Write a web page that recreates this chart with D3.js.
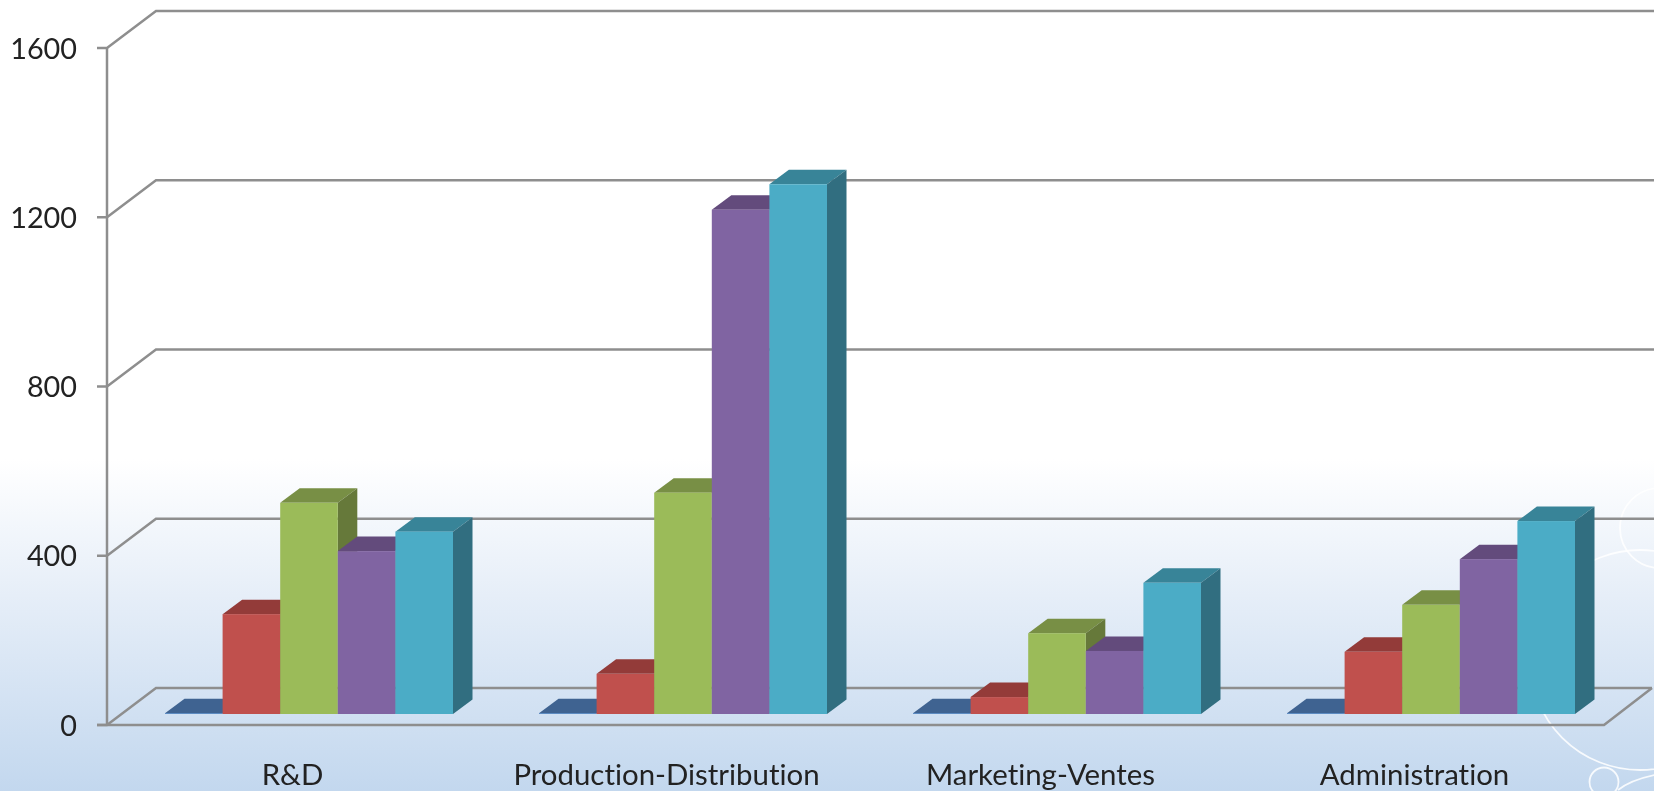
<!DOCTYPE html>
<html><head><meta charset="utf-8">
<script src="https://cdn.jsdelivr.net/npm/d3@7/dist/d3.min.js"></script>
<style>html,body{margin:0;padding:0;overflow:hidden;background:#fff}svg{display:block;filter:blur(0.5px)}text{font-family:Lato,"Open Sans",sans-serif;fill:#222;font-variant-ligatures:none}</style>
</head><body><script>
const categories=["R&D","Production-Distribution","Marketing-Ventes","Administration"];
const tickValues=[0,400,800,1200,1600];
const seriesA=[2,2,2,2];
const seriesB=[236,95,40,147];
const seriesC=[499,523,191,258];
const seriesD=[385,1192,149,366];
const seriesE=[431,1252,310,456];
const seriesList=[seriesA,seriesB,seriesC,seriesD,seriesE];
const fronts=["#4f81bd","#c0504d","#9bbb59","#8064a2","#4bacc6"];
const tops=["#3f6391","#933b39","#788f45","#634b7c","#388498"];
const sides=["#365a85","#7f3331","#66793a","#54406b","#316e80"];

const W=1654,H=791;
const svg=d3.select("body").append("svg").attr("width",W).attr("height",H);
const defs=svg.append("defs");
const g=defs.append("linearGradient").attr("id","bg").attr("x1",0).attr("y1",0).attr("x2",0).attr("y2",1);
[[0,"#ffffff"],[0.58,"#ffffff"],[0.75,"#e6eef8"],[1,"#c2d7ee"]].forEach(d=>g.append("stop").attr("offset",d[0]).attr("stop-color",d[1]));
svg.append("rect").attr("x",-4).attr("y",-4).attr("width",W+8).attr("height",H+8).attr("fill","url(#bg)");

// decorative white rings of the slide background
const ring=(cx,cy,r)=>svg.append("circle").attr("cx",cx).attr("cy",cy).attr("r",r).attr("fill","none").attr("stroke","#fff").attr("stroke-width",1.8).attr("opacity",0.85);
ring(1660,528,40);
ring(1640,660,110);
ring(1604,782,14.5);
svg.append("path").attr("d","M1618,790 Q1632,779 1660,774").attr("fill","none").attr("stroke","#fff").attr("stroke-width",1.8).attr("opacity",0.85);

const y=d3.scaleLinear().domain([0,1600]).range([725,48]);
const x=d3.scaleBand().domain(categories).range([107,1603]);
const grey="#8e8e8e";
const wallDx=49,wallDy=-37;
const line=(pts,c=grey,w=2.5)=>svg.append("path").attr("d",d3.line()(pts)).attr("fill","none").attr("stroke",c).attr("stroke-width",w);

tickValues.forEach(t=>{
  const v=y(t);
  line([[97,v],[107,v],[107+wallDx,v+wallDy],[t===0?1652:W+4,v+wallDy]]);
  svg.append("text").attr("x",77).attr("y",v+10.5).attr("text-anchor","end").attr("font-size",28.8).text(t);
});
line([[107,y(0)],[107,y(1600)]]);
line([[97,725],[1604,725],[1652,688]]);

// bars
const base=714,barW=57.6,dx=19.5,dy=-14.5,inset=58;
const h=d3.scaleLinear().domain([0,1600]).range([0,677]);
categories.forEach((c,ci)=>{
  seriesList.forEach((s,si)=>{
    const x0=x(c)+inset+si*barW, x1=x0+barW, t=base-h(s[ci]);
    const gb=svg.append("g");
    gb.append("path").attr("d",d3.line()([[x0,t],[x0+dx,t+dy],[x1+dx,t+dy],[x1,t]])+"Z").attr("fill",tops[si]);
    gb.append("path").attr("d",d3.line()([[x1,t],[x1+dx,t+dy],[x1+dx,base+dy],[x1,base]])+"Z").attr("fill",sides[si]);
    gb.append("rect").attr("x",x0).attr("y",t).attr("width",barW).attr("height",base-t).attr("fill",fronts[si]);
  });
  svg.append("text").attr("x",x(c)+x.bandwidth()/2-1.5).attr("y",785).attr("text-anchor","middle").attr("font-size",29.4).text(c);
});
</script></body></html>
